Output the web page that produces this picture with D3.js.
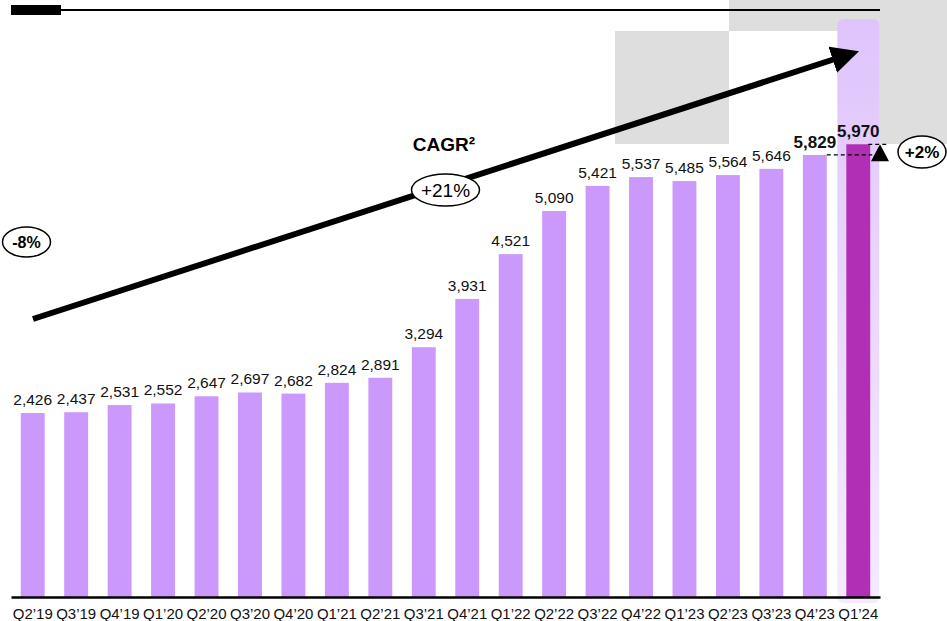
<!DOCTYPE html>
<html>
<head>
<meta charset="utf-8">
<script src="https://cdn.jsdelivr.net/npm/d3@7"></script>
<style>
  body { margin: 0; background: #fff; }
  svg { display: block; font-family: "Liberation Sans", Arial, sans-serif; }
</style>
</head>
<body>
<svg id="chart" width="947" height="621"></svg>
<script>
const categories = ["Q2\u201919", "Q3\u201919", "Q4\u201919", "Q1\u201920", "Q2\u201920", "Q3\u201920", "Q4\u201920",
  "Q1\u201921", "Q2\u201921", "Q3\u201921", "Q4\u201921", "Q1\u201922", "Q2\u201922", "Q3\u201922", "Q4\u201922",
  "Q1\u201923", "Q2\u201923", "Q3\u201923", "Q4\u201923", "Q1\u201924"];
const values = [2426, 2437, 2531, 2552, 2647, 2697, 2682, 2824, 2891, 3294, 3931, 4521, 5090, 5421, 5537,
  5485, 5564, 5646, 5829, 5970];
const cagrLabel = "+21%";
const leftLabel = "-8%";
const qoqLabel = "+2%";

const svg = d3.select('#chart');

// scales
const x = d3.scaleBand()
  .domain(categories)
  .range([11, 880])
  .paddingInner(0.45)
  .paddingOuter(0.225);

const y = d3.scaleLinear()
  .domain([0, 6000])
  .range([597, 142]);

const fmt = d3.format(',');
const last = categories[categories.length - 1];
const prev = categories[categories.length - 2];

// grey backdrop blocks
svg.append('rect').attr('x', 615).attr('y', 31).attr('width', 114).attr('height', 113).attr('fill', '#dedede');
svg.append('rect').attr('x', 729).attr('y', 0).attr('width', 218).attr('height', 31).attr('fill', '#dedede');
svg.append('rect').attr('x', 870).attr('y', 0).attr('width', 77).attr('height', 144).attr('fill', '#dedede');

// highlight column behind last bar
const defs = svg.append('defs');
const grad = defs.append('linearGradient').attr('id', 'hl').attr('x1', 0).attr('x2', 0).attr('y1', 0).attr('y2', 1);
grad.append('stop').attr('offset', '0%').attr('stop-color', '#dfc4fc');
grad.append('stop').attr('offset', '100%').attr('stop-color', '#f4ebfe');
svg.append('rect')
  .attr('x', x(last) - 9)
  .attr('y', 19)
  .attr('width', x.bandwidth() + 18)
  .attr('height', 597 - 19 + 6)
  .attr('rx', 6)
  .attr('fill', 'url(#hl)');

// top rule
svg.append('rect').attr('x', 11).attr('y', 5).attr('width', 50).attr('height', 10).attr('fill', '#000');
svg.append('line').attr('x1', 61).attr('x2', 880).attr('y1', 10).attr('y2', 10)
  .attr('stroke', '#000').attr('stroke-width', 2);

// bars
svg.append('g').selectAll('rect')
  .data(values)
  .join('rect')
  .attr('x', (d, i) => x(categories[i]))
  .attr('y', d => y(d))
  .attr('width', x.bandwidth())
  .attr('height', d => y(0) - y(d))
  .attr('fill', (d, i) => categories[i] === last ? '#b12fb5' : '#cb99fb');

// value labels
svg.append('g').selectAll('text')
  .data(values)
  .join('text')
  .attr('x', (d, i) => x(categories[i]) + x.bandwidth() / 2)
  .attr('y', (d, i) => y(d) - (i >= values.length - 2 ? 7 : 8))
  .attr('text-anchor', 'middle')
  .attr('font-size', (d, i) => i >= values.length - 2 ? 17 : 15.5)
  .attr('font-weight', (d, i) => i >= values.length - 2 ? 'bold' : 'normal')
  .attr('fill', '#111')
  .text(d => fmt(d));

// x axis
const xAxis = d3.axisBottom(x).tickSize(0).tickPadding(12);
const gx = svg.append('g')
  .attr('transform', 'translate(0,597)')
  .call(xAxis);
gx.select('.domain').attr('stroke', '#000').attr('stroke-width', 2.5);
gx.selectAll('text')
  .attr('font-size', 14)
  .attr('font-family', '"Liberation Sans", Arial, sans-serif')
  .attr('fill', '#111')
  .attr('textLength', 40)
  .attr('lengthAdjust', 'spacingAndGlyphs');

// CAGR arrow
defs.append('marker')
  .attr('id', 'arrow')
  .attr('viewBox', '0 0 10 10')
  .attr('refX', 2).attr('refY', 5)
  .attr('markerWidth', 4.6).attr('markerHeight', 4.6)
  .attr('orient', 'auto')
  .append('path').attr('d', 'M0,0 L10,5 L0,10 Z').attr('fill', '#000');
svg.append('line')
  .attr('x1', 33).attr('y1', 319)
  .attr('x2', 838).attr('y2', 58)
  .attr('stroke', '#000').attr('stroke-width', 6)
  .attr('marker-end', 'url(#arrow)');

svg.append('text').attr('x', 444).attr('y', 151).attr('text-anchor', 'middle')
  .attr('font-size', 19).attr('font-weight', 'bold').text('CAGR\u00b2');

function pill(cx, cy, rx, ry, label, bold, size) {
  svg.append('ellipse').attr('cx', cx).attr('cy', cy).attr('rx', rx).attr('ry', ry)
    .attr('fill', '#fff').attr('stroke', '#000').attr('stroke-width', 1.5);
  svg.append('text').attr('x', cx).attr('y', cy + size * 0.36).attr('text-anchor', 'middle')
    .attr('font-size', size).attr('font-weight', bold ? 'bold' : 'normal').text(label);
}
pill(445.5, 190, 34, 16, cagrLabel, false, 19);
pill(26.5, 242, 24, 15, leftLabel, true, 16);
pill(922, 152, 24, 16, qoqLabel, true, 17);

// QoQ marker
const xPrevEnd = x(prev) + x.bandwidth();
svg.append('line').attr('x1', xPrevEnd).attr('x2', x(last) + x.bandwidth() + 2)
  .attr('y1', y(values[values.length - 2])).attr('y2', y(values[values.length - 2]))
  .attr('stroke', '#000').attr('stroke-width', 1.2).attr('stroke-dasharray', '4,3');
svg.append('line').attr('x1', x(last) + x.bandwidth() - 2).attr('x2', 887)
  .attr('y1', y(values[values.length - 1])).attr('y2', y(values[values.length - 1]))
  .attr('stroke', '#000').attr('stroke-width', 1.2).attr('stroke-dasharray', '4,3');
const tx = 880;
const ty = y(values[values.length - 1]);
svg.append('path')
  .attr('d', `M${tx},${ty} L${tx + 9},${ty + 17} L${tx - 9},${ty + 17} Z`)
  .attr('fill', '#000');
</script>
</body>
</html>
